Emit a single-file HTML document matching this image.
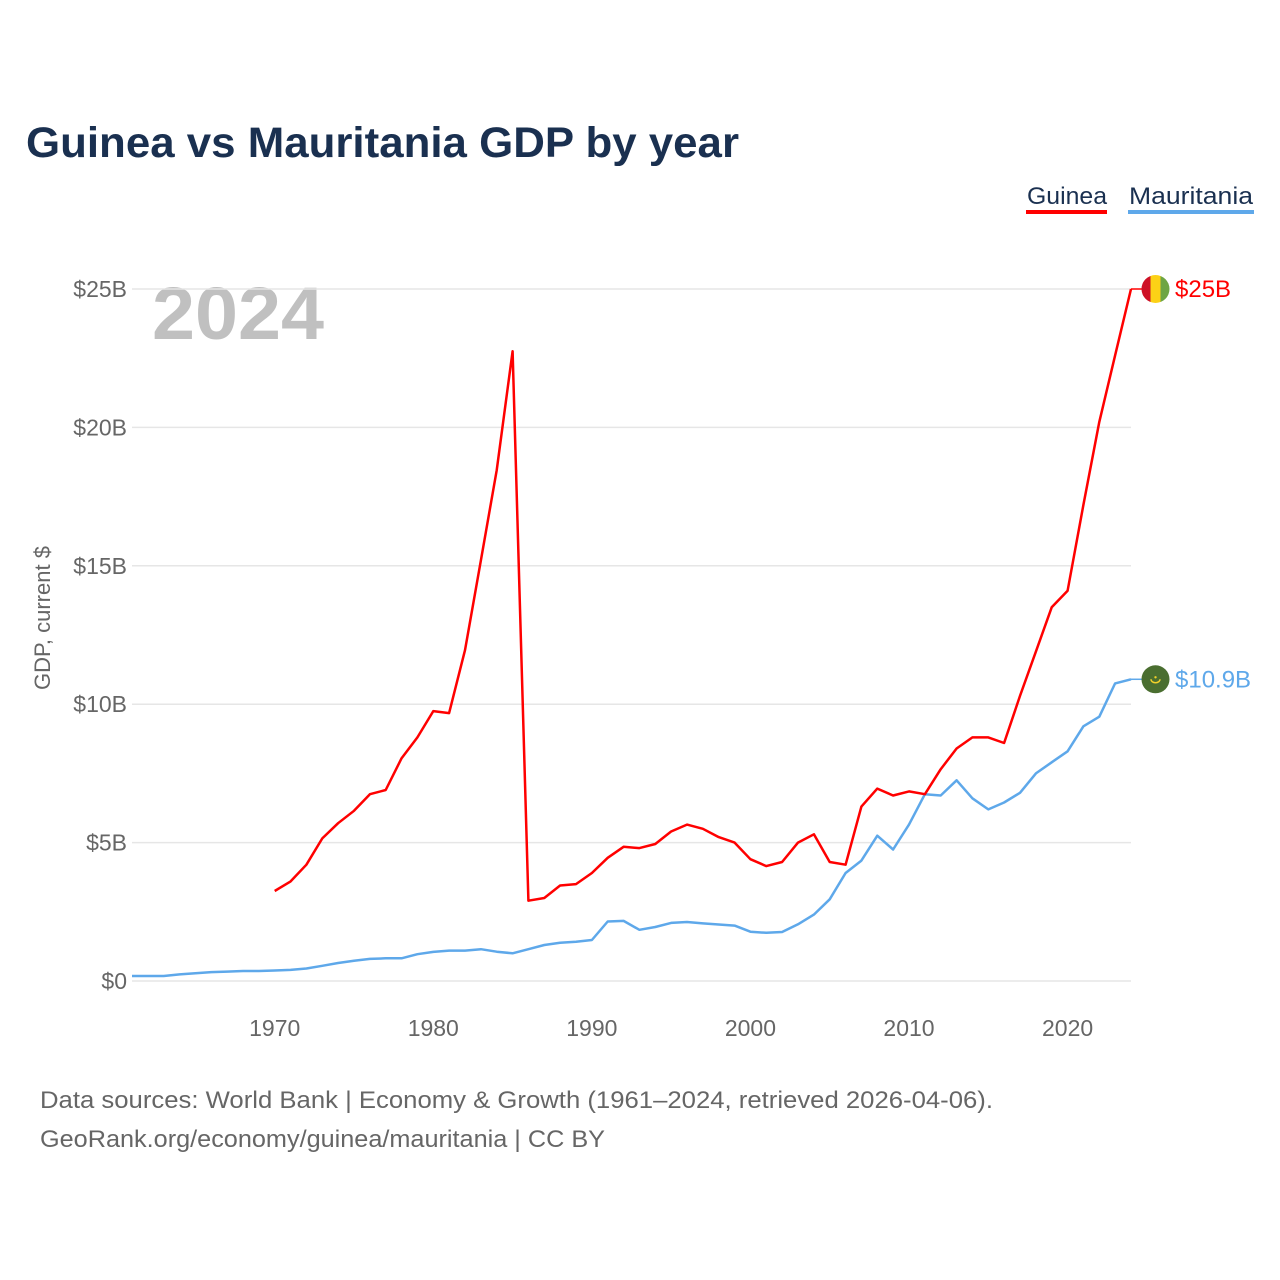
<!DOCTYPE html>
<html><head><meta charset="utf-8"><style>
body{margin:0;background:#fff;width:1280px;height:1280px;overflow:hidden;font-family:"Liberation Sans",sans-serif}
</style></head><body>
<svg width="1280" height="1280" style="position:absolute;left:0;top:0">
<text x="26" y="157" font-size="43" font-weight="bold" fill="#1a3050" textLength="713" lengthAdjust="spacingAndGlyphs">Guinea vs Mauritania GDP by year</text>
<g>
<text x="1027" y="204" font-size="24" fill="#1a3050" textLength="80" lengthAdjust="spacingAndGlyphs">Guinea</text>
<rect x="1026" y="210" width="81" height="4" fill="#ff0000"/>
<text x="1129" y="204" font-size="24" fill="#1a3050" textLength="124" lengthAdjust="spacingAndGlyphs">Mauritania</text>
<rect x="1128" y="210" width="126" height="4" fill="#5ea8ea"/>
</g>
<text x="152" y="339" font-size="74" font-weight="bold" fill="#c0c0c0" textLength="172" lengthAdjust="spacingAndGlyphs">2024</text>
<text transform="translate(50,618) rotate(-90)" text-anchor="middle" font-size="22" fill="#666">GDP, current $</text>
<g id="grid"></g><g id="yt"></g><g id="xt"></g><g id="lines"></g><g id="ends"></g>
<text x="40" y="1108" font-size="24" fill="#666" textLength="953" lengthAdjust="spacingAndGlyphs">Data sources: World Bank | Economy &amp; Growth (1961–2024, retrieved 2026-04-06).</text>
<text x="40" y="1147" font-size="24" fill="#666" textLength="565" lengthAdjust="spacingAndGlyphs">GeoRank.org/economy/guinea/mauritania | CC BY</text>
</svg>
<script>
const yTicks=[0,5,10,15,20,25];
const yTickLabels=["$0","$5B","$10B","$15B","$20B","$25B"];
const xTicks=[1970,1980,1990,2000,2010,2020];
const guineaStart=1970;
const guinea=[3.25,3.6,4.2,5.15,5.7,6.15,6.75,6.9,8.05,8.8,9.75,9.68,11.95,15.2,18.45,22.75,2.9,3.0,3.45,3.5,3.9,4.45,4.85,4.8,4.95,5.4,5.65,5.5,5.2,5.0,4.4,4.15,4.3,5.0,5.3,4.3,4.2,6.3,6.95,6.7,6.85,6.75,7.65,8.4,8.8,8.8,8.6,10.3,11.9,13.5,14.1,17.2,20.2,22.6,25.0];
const mauStart=1961;
const mauritania=[0.18,0.18,0.18,0.24,0.28,0.32,0.34,0.36,0.36,0.38,0.4,0.45,0.55,0.65,0.73,0.8,0.82,0.82,0.97,1.05,1.1,1.1,1.15,1.06,1.0,1.15,1.3,1.38,1.42,1.48,2.15,2.17,1.85,1.95,2.1,2.13,2.08,2.04,2.0,1.78,1.74,1.77,2.05,2.4,2.95,3.9,4.35,5.25,4.75,5.65,6.75,6.7,7.25,6.6,6.2,6.45,6.8,7.5,7.9,8.3,9.2,9.55,10.75,10.9];
const ends=[{name:"guinea",label:"$25B",color:"#ff0000"},{name:"mauritania",label:"$10.9B",color:"#5ea8ea"}];
const NS="http://www.w3.org/2000/svg";
const X=yr=>132+(yr-1961)*(999/63);
const Y=v=>981-v*27.68;
function mk(t,a,p){const e=document.createElementNS(NS,t);for(const k in a)e.setAttribute(k,a[k]);p.appendChild(e);return e;}
const grid=document.getElementById('grid'),yt=document.getElementById('yt'),xt=document.getElementById('xt');
yTicks.forEach((v,i)=>{
 const l=mk('line',{x1:132,x2:1131,y1:Y(v),y2:Y(v),stroke:'#e6e6e6','stroke-width':1.5},grid);
 
 
 const t=mk('text',{x:127,y:Y(v)+8,'text-anchor':'end','font-size':23,fill:'#666'},yt);
 t.textContent=yTickLabels[i];
 
 
});
xTicks.forEach(yr=>{
 const t=mk('text',{x:X(yr),y:1036,'text-anchor':'middle','font-size':23,fill:'#666'},xt);
 t.textContent=yr;
 
 
});
function line(data,start,color,name){
 const d=data.map((v,i)=>(i?'L':'M')+X(start+i).toFixed(1)+','+Y(v).toFixed(1)).join('');
 const p=mk('path',{d:d,fill:'none',stroke:color,'stroke-width':2.5,'stroke-linejoin':'round'},document.getElementById('lines'));
 
 
}
line(mauritania,mauStart,'#5ea8ea','mauritania-line');
line(guinea,guineaStart,'#ff0000','guinea-line');
const eg=document.getElementById('ends');
[guinea[guinea.length-1],mauritania[mauritania.length-1]].forEach((v,i)=>{
 const y=Y(v),e=ends[i];
 mk('line',{x1:1131,x2:1142,y1:y,y2:y,stroke:e.color,'stroke-width':1.5},eg);
 const g=mk('g',{},eg);
 
 
 const cp=mk('clipPath',{id:'c'+i},g);mk('circle',{cx:1155.5,cy:y,r:14},cp);
 if(i==0){
  mk('rect',{x:1141,y:y-14,width:9.5,height:28,fill:'#ce1126','clip-path':'url(#c0)'},g);
  mk('rect',{x:1150.5,y:y-14,width:10,height:28,fill:'#fcd116','clip-path':'url(#c0)'},g);
  mk('rect',{x:1160.5,y:y-14,width:10,height:28,fill:'#6ea544','clip-path':'url(#c0)'},g);
 }else{
  mk('circle',{cx:1155.5,cy:y,r:14,fill:'#4a6e30'},g);
  mk('path',{d:`M1151,${y} a4.5,3.5 0 0 0 9,0`,fill:'none',stroke:'#f2d12b','stroke-width':1.5},g);
  mk('circle',{cx:1155.5,cy:y-2,r:1.2,fill:'#f2d12b'},g);
 }
 const t=mk('text',{x:1175,y:y+8,'font-size':24,fill:e.color},eg);
 t.textContent=e.label;
 
 
});
</script>
</body></html>
